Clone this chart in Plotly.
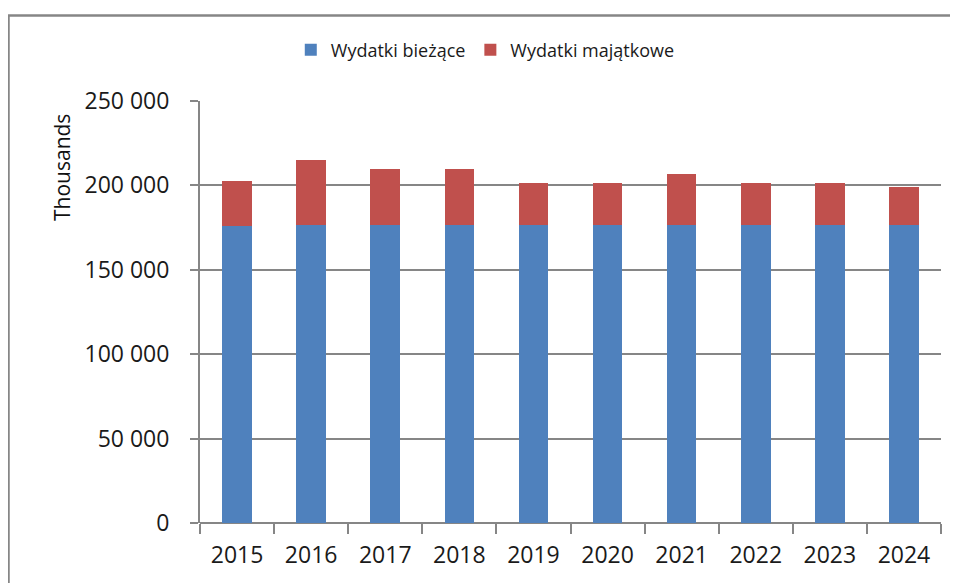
import plotly.graph_objects as go

years = ["2015", "2016", "2017", "2018", "2019", "2020", "2021", "2022", "2023", "2024"]
wydatki_biezace = [176100, 176500, 176500, 176500, 176500, 176500, 176500, 176500, 176500, 176500]
wydatki_total = [202600, 215000, 209700, 209700, 201400, 201400, 206750, 201400, 201400, 199050]
wydatki_majatkowe = [t - b for t, b in zip(wydatki_total, wydatki_biezace)]

series_names = ["Wydatki bieżące", "Wydatki majątkowe"]
colors = ["#4F81BD", "#C0504D"]
y_ticks = [0, 50000, 100000, 150000, 200000, 250000]
y_title = "Thousands"

GRID = "#868686"
TXT = "#1a1a1a"
FONT = "Open Sans"

fig = go.Figure()
fig.add_trace(go.Bar(x=years, y=wydatki_biezace, name=series_names[0], marker_color=colors[0],
                     marker_line_width=0))
fig.add_trace(go.Bar(x=years, y=wydatki_majatkowe, name=series_names[1], marker_color=colors[1],
                     marker_line_width=0))

fig.update_layout(
    barmode="stack",
    bargap=0.6,
    width=950, height=575,
    margin=dict(l=192, r=17, t=93, b=60),
    paper_bgcolor="white", plot_bgcolor="white",
    separators=". ",
    font=dict(family=FONT, color=TXT),
    legend=dict(orientation="h", x=0.385, y=1.121, xanchor="center", yanchor="middle",
                font=dict(size=18, color=TXT), itemwidth=30, traceorder="normal",
                bgcolor="rgba(0,0,0,0)"),
    showlegend=True,
)
fig.update_xaxes(
    type="category", showgrid=False, showline=False,
    ticks="outside", tickson="boundaries", ticklen=10, tickwidth=2, tickcolor=GRID,
    ticklabelstandoff=16,
    tickfont=dict(size=23, color=TXT, family=FONT),
)
fig.update_yaxes(
    range=[0, 250000], tickvals=y_ticks, tickformat=",d",
    showgrid=True, gridcolor=GRID, gridwidth=2,
    showline=True, linecolor=GRID, linewidth=2,
    zeroline=True, zerolinecolor=GRID, zerolinewidth=2,
    ticks="outside", ticklen=8, tickwidth=2, tickcolor=GRID,
    ticklabelstandoff=16,
    tickfont=dict(size=23, color=TXT, family=FONT),
)
# axis title placed like the original (upper part of the axis)
fig.add_annotation(text=y_title, xref="paper", yref="paper",
                   x=(62 - 200) / 741, y=(523 - 168) / 422,
                   xanchor="center", yanchor="middle", textangle=-90, showarrow=False,
                   font=dict(size=21, color="#111111", family=FONT))
# outer chart border
fig.add_shape(type="rect", xref="paper", yref="paper",
              x0=(8.5 - 200) / 741, x1=(975 - 200) / 741,
              y0=(523 - 600) / 422, y1=(523 - 15.5) / 422,
              line=dict(color=GRID, width=2.5), fillcolor="rgba(0,0,0,0)", layer="below")

fig.write_html("out.html")
